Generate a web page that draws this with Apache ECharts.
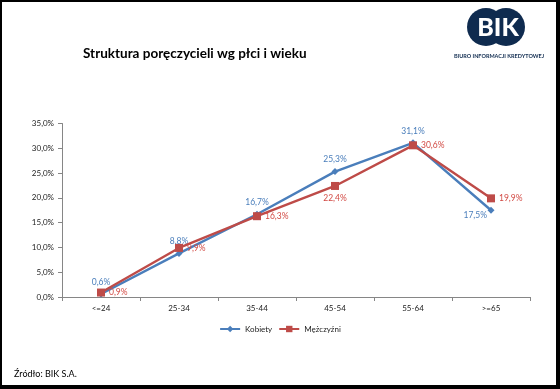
<!DOCTYPE html>
<html>
<head>
<meta charset="utf-8">
<script src="https://cdn.jsdelivr.net/npm/echarts@6/dist/echarts.min.js"></script>
<style>
html,body{margin:0;padding:0;background:#fff;}
#c{width:560px;height:389px;}
</style>
</head>
<body>
<div id="c"></div>
<script>
var categories = ['<=24', '25-34', '35-44', '45-54', '55-64', '>=65'];
var kobiety = [0.6, 8.8, 16.7, 25.3, 31.1, 17.5];
var mezczyzni = [0.9, 9.9, 16.3, 22.4, 30.6, 19.9];
var seriesNames = ['Kobiety', 'Mężczyźni'];
var yTicks = [0, 5, 10, 15, 20, 25, 30, 35];

var FONT = 'Lato';
var BLUE = '#4A7EBB';
var RED = '#BE4B48';
function fmt(v) { return v.toFixed(1).replace('.', ',') + '%'; }

var blueLabelPos = ['top', 'top', 'top', 'top', 'top', [-24, 4]];
var redLabelPos = ['right', 'right', 'right', 'bottom', 'right', 'right'];

function buildData(vals, posArr) {
  return vals.map(function (v, i) {
    return { value: v, label: { position: posArr[i] } };
  });
}

var chart = echarts.init(document.getElementById('c'), null, { renderer: 'canvas' });
var option = {
  backgroundColor: '#fff',
  animation: false,
  textStyle: { fontFamily: FONT },
  title: {
    text: 'Struktura poręczycieli wg płci i wieku',
    left: 78, top: 42,
    textStyle: { fontFamily: FONT, fontSize: 13.5, fontWeight: 'bold', color: '#000' }
  },
  grid: { left: 62, right: 30, top: 123.5, bottom: 92 },
  legend: {
    data: seriesNames,
    left: 'center', top: 320,
    itemWidth: 20, itemHeight: 8, itemGap: 6,
    textStyle: { fontFamily: FONT, fontSize: 8, color: '#222' }
  },
  xAxis: {
    type: 'category',
    data: categories,
    boundaryGap: true,
    axisLine: { lineStyle: { color: '#868686', width: 1 } },
    axisTick: { show: true, alignWithLabel: false, length: 4, inside: false, lineStyle: { color: '#868686' } },
    axisLabel: { fontFamily: FONT, fontSize: 8, color: '#222', margin: 7 }
  },
  yAxis: {
    type: 'value',
    min: 0, max: 35, interval: 5,
    splitLine: { show: false },
    axisLine: { show: true, lineStyle: { color: '#868686', width: 1 } },
    axisTick: { show: true, length: 4, lineStyle: { color: '#868686' } },
    axisLabel: {
      fontFamily: FONT, fontSize: 8, color: '#222', margin: 8,
      formatter: function (v) { return v.toFixed(1).replace('.', ',') + '%'; }
    }
  },
  series: [
    {
      name: seriesNames[0],
      type: 'line',
      data: buildData(kobiety, blueLabelPos),
      symbol: 'diamond',
      symbolSize: 7,
      lineStyle: { color: BLUE, width: 2.4 },
      itemStyle: { color: BLUE },
      label: {
        show: true, distance: 4,
        fontFamily: FONT, fontSize: 8.5, color: BLUE,
        formatter: function (p) { return fmt(p.value); }
      },
      z: 3
    },
    {
      name: seriesNames[1],
      type: 'line',
      data: buildData(mezczyzni, redLabelPos),
      symbol: 'rect',
      symbolSize: 8,
      lineStyle: { color: RED, width: 2.4 },
      itemStyle: { color: RED },
      label: {
        show: true, distance: 4,
        fontFamily: FONT, fontSize: 8.5, color: '#D24A44',
        formatter: function (p) { return fmt(p.value); }
      },
      z: 4
    }
  ],
  graphic: [
    { type: 'circle', shape: { cx: 486, cy: 27, r: 19 }, style: { fill: '#0F2B4F' } },
    { type: 'circle', shape: { cx: 506, cy: 27, r: 19 }, style: { fill: '#0F2B4F' } },
    { type: 'text', x: 498, y: 28, style: { text: 'BIK', fill: '#fff', font: '900 25px ' + FONT, textAlign: 'center', textVerticalAlign: 'middle' } },
    { type: 'text', x: 499, y: 56, style: { text: 'BIURO INFORMACJI KREDYTOWEJ', fill: '#0F2B4F', font: 'bold 5.5px ' + FONT, textAlign: 'center', textVerticalAlign: 'middle' } },
    { type: 'text', x: 14, y: 374, style: { text: 'Źródło: BIK S.A.', fill: '#000', font: '9px ' + FONT, textAlign: 'left', textVerticalAlign: 'middle' } },
    { type: 'rect', shape: { x: 0, y: 0, width: 2, height: 389 }, style: { fill: '#000' } },
    { type: 'rect', shape: { x: 0, y: 0, width: 560, height: 2 }, style: { fill: '#000' } },
    { type: 'rect', shape: { x: 556, y: 0, width: 4, height: 389 }, style: { fill: '#000' } },
    { type: 'rect', shape: { x: 0, y: 385, width: 560, height: 4 }, style: { fill: '#000' } }
  ]
};
chart.setOption(option);
</script>
</body>
</html>
